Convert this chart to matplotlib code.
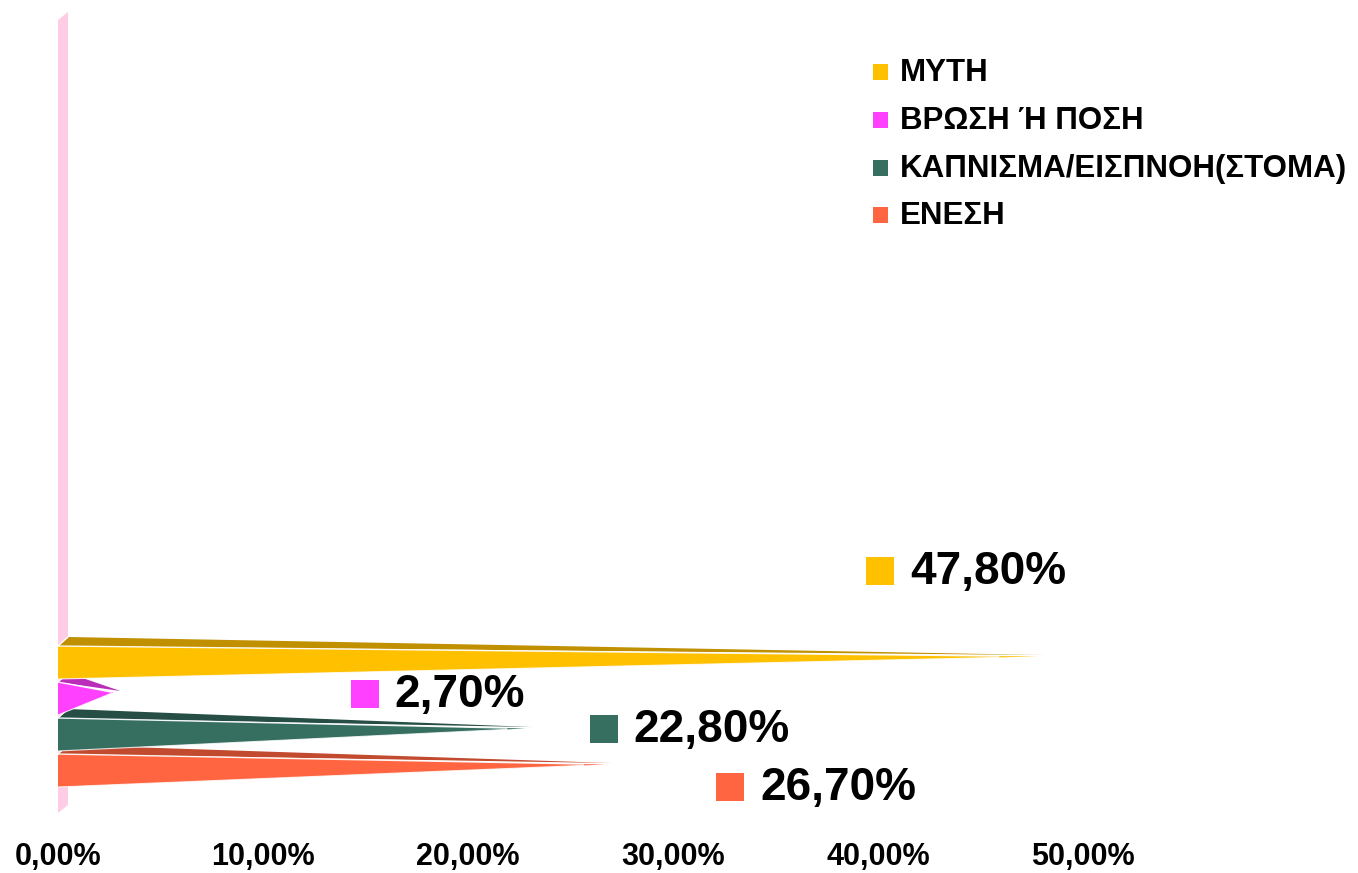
import matplotlib
matplotlib.use("Agg")
import matplotlib.pyplot as plt
from matplotlib.patches import Polygon, Rectangle

# data (bottom bar first)
categories = ["ΕΝΕΣΗ", "ΚΑΠΝΙΣΜΑ/ΕΙΣΠΝΟΗ(ΣΤΟΜΑ)", "ΒΡΩΣΗ Ή ΠΟΣΗ", "ΜΥΤΗ"]
values = [26.7, 22.8, 2.7, 47.8]
front_colors = ["#FF6541", "#366E60", "#FF40FF", "#FFC000"]
top_colors = ["#C24A2F", "#264E44", "#B92DB9", "#C09000"]
xticks = [0, 10, 20, 30, 40, 50]

W, H = 1358, 873
fig = plt.figure(figsize=(W / 100, H / 100), dpi=100)
plt.rcParams['font.family'] = ['Liberation Sans', 'DejaVu Sans']

# layout in pixels
x0_px, px_per_pct = 58, 20.5
ax_bottom_px = 830
y0_px, row_px = 770.5, 36

ax = fig.add_axes([x0_px / W, (H - ax_bottom_px) / H, (W - x0_px) / W, ax_bottom_px / H])
ax.set_xlim(0, (W - x0_px) / px_per_pct)
ax.set_ylim((y0_px - ax_bottom_px) / row_px, y0_px / row_px)


def py(p):
    # pixel row -> data y
    return (y0_px - p) / row_px


# pink back wall
wall_dx = 10 / px_per_pct
wall = Polygon([(0, py(813)), (0, py(20)), (wall_dx, py(12)), (wall_dx, py(805))],
               closed=True, facecolor="#FFCCE5", edgecolor="none", zorder=1)
ax.add_patch(wall)

# pyramid bars
h = 16.5 / row_px
a = 6 / row_px
dx = 10 / px_per_pct
dy = 9 / row_px
for i, v in enumerate(values):
    yc = i
    z = 2 + i
    apex = (v, yc + a)
    top = Polygon([(0, yc + h), (dx, yc + h + dy), (v + 0.35, yc + a + 0.04)], closed=True,
                  facecolor=top_colors[i], edgecolor="none", zorder=z)
    front = Polygon([(0, yc - h), (0, yc + h), apex], closed=True,
                    facecolor=front_colors[i], edgecolor="none", zorder=z)
    ax.add_patch(top)
    ax.add_patch(front)
    # thin white edges, stopped just short of the tip
    f = 0.96
    ax.plot([0, f * v], [yc + h, yc + h + f * (a - h)], color="white", lw=1.0,
            alpha=0.9, zorder=z)
    ax.plot([0, f * v], [yc - h, yc - h + f * (a + h)], color="white", lw=0.8,
            alpha=0.8, zorder=z)
    ax.plot([0, dx], [yc + h, yc + h + dy], color="white", lw=1.0, zorder=z)

ax.set_xticks(xticks)
ax.set_xticklabels([f"{t:.2f}%".replace(".", ",") for t in xticks],
                   fontsize=22, fontweight="bold")
ax.tick_params(axis="x", length=0, pad=9)
ax.set_yticks([])
for s in ax.spines.values():
    s.set_visible(False)
ax.patch.set_alpha(0)

# value labels (square + text), pixel positions
label_pos = [(730, 787), (603.5, 729), (364.5, 694), (880, 571)]
sq = 28
for i, (cx, cy) in enumerate(label_pos):
    fig.patches.append(Rectangle(((cx - sq / 2) / W, 1 - (cy + sq / 2) / H), sq / W, sq / H,
                                 transform=fig.transFigure, facecolor=front_colors[i],
                                 edgecolor="none"))
    fig.text((cx + 30) / W, 1 - (cy + 1) / H, f"{values[i]:.2f}%".replace(".", ","),
             fontsize=33, fontweight="bold", va="center", ha="left")

# legend (top entry first)
leg_y = [72, 120, 168, 215]
lsq = 15
for k, i in enumerate(reversed(range(len(categories)))):
    cy = leg_y[k]
    fig.patches.append(Rectangle(((880 - lsq / 2) / W, 1 - (cy + lsq / 2) / H), lsq / W, lsq / H,
                                 transform=fig.transFigure, facecolor=front_colors[i],
                                 edgecolor="none"))
    fig.text(900 / W, 1 - (cy + 1) / H, categories[i], fontsize=22.5, fontweight="bold",
             va="center", ha="left")

fig.savefig("out.png", dpi=100)
